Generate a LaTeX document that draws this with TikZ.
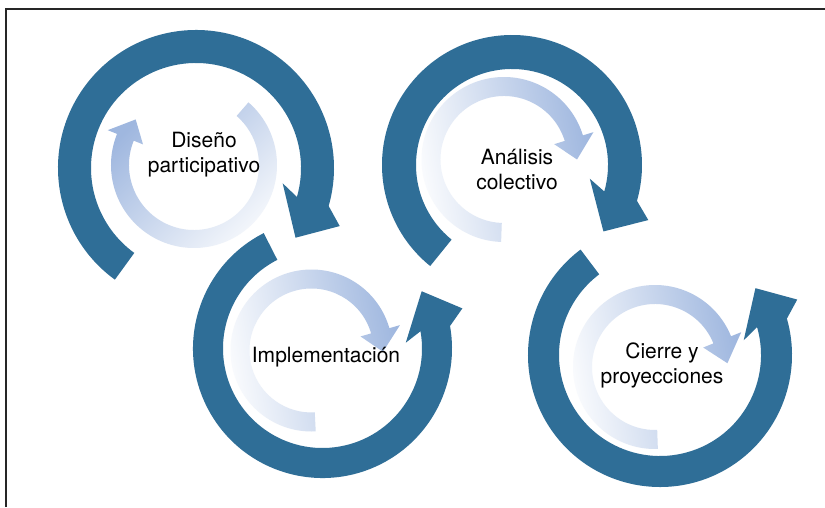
\documentclass[tikz,border=0pt]{standalone}
\usepackage{fontspec}
\setmainfont{TeX Gyre Heros}
\usetikzlibrary{calc}
\definecolor{ringblue}{RGB}{47,110,151}
\definecolor{softblue}{RGB}{159,183,223}
\tikzset{
ring/.style={fill=ringblue},
soft/.style={left color=softblue, right color=white!94!softblue},
label/.style={align=center, font=\fontsize{21}{25}\selectfont}
}
% #1 style, #2 centre, #3 start, #4 end, #5 tip, #6 inner r, #7 outer r, #8 head, #9 head skew
\newcommand{\ringarrow}[9]{%
\begin{scope}[shift={#2}]
\path[#1] (#3:#7) arc[start angle=#3, end angle=#4, radius=#7]
-- ({#4+#9}:{#7+#8}) -- (#5:{(#6+#7)/2}) -- ({#4-#9}:{#6-#8})
-- (#4:#6) arc[start angle=#4, end angle=#3, radius=#6] -- cycle;
\end{scope}}

\begin{document}
\begin{tikzpicture}[x=1pt, y=1pt]
\useasboundingbox (0,0) rectangle (825,507);
\fill[white] (0,0) rectangle (825,507);
\draw[line width=1.3pt, black!85] (6,0) |- (825,498);

\ringarrow{ring}{(196,339)}{234}{-16}{-35}{105}{138}{17}{-6}
\ringarrow{soft, shading angle=45}{(194,342)}{49}{-202}{-218}{65}{83}{10}{0}
\node[label] (dis) at (204,352) {Diseño\\participativo};

\ringarrow{ring}{(322.5,158.5)}{117}{370}{390}{99.5}{129.5}{16}{6}
\ringarrow{soft, shading angle=280}{(311.5,156.5)}{273}{16}{-1}{62}{81}{11}{0}
\node[label] (imp) at (326,150) {Implementación};

\ringarrow{ring}{(512,342)}{231}{-16}{-36}{96}{130}{17}{-6}
\ringarrow{soft, shading angle=280}{(504,347.5)}{268}{17}{0}{63.5}{82.5}{11}{0}
\node[label] (ana) at (517,337) {Análisis\\colectivo};

\ringarrow{ring}{(660,152)}{127}{376}{395}{101}{132}{16}{6}
\ringarrow{soft, shading angle=280}{(655,140)}{272}{22}{3}{63}{82}{11}{0}
\node[label] (cie) at (662,142) {Cierre y\\proyecciones};
\end{tikzpicture}
\end{document}
